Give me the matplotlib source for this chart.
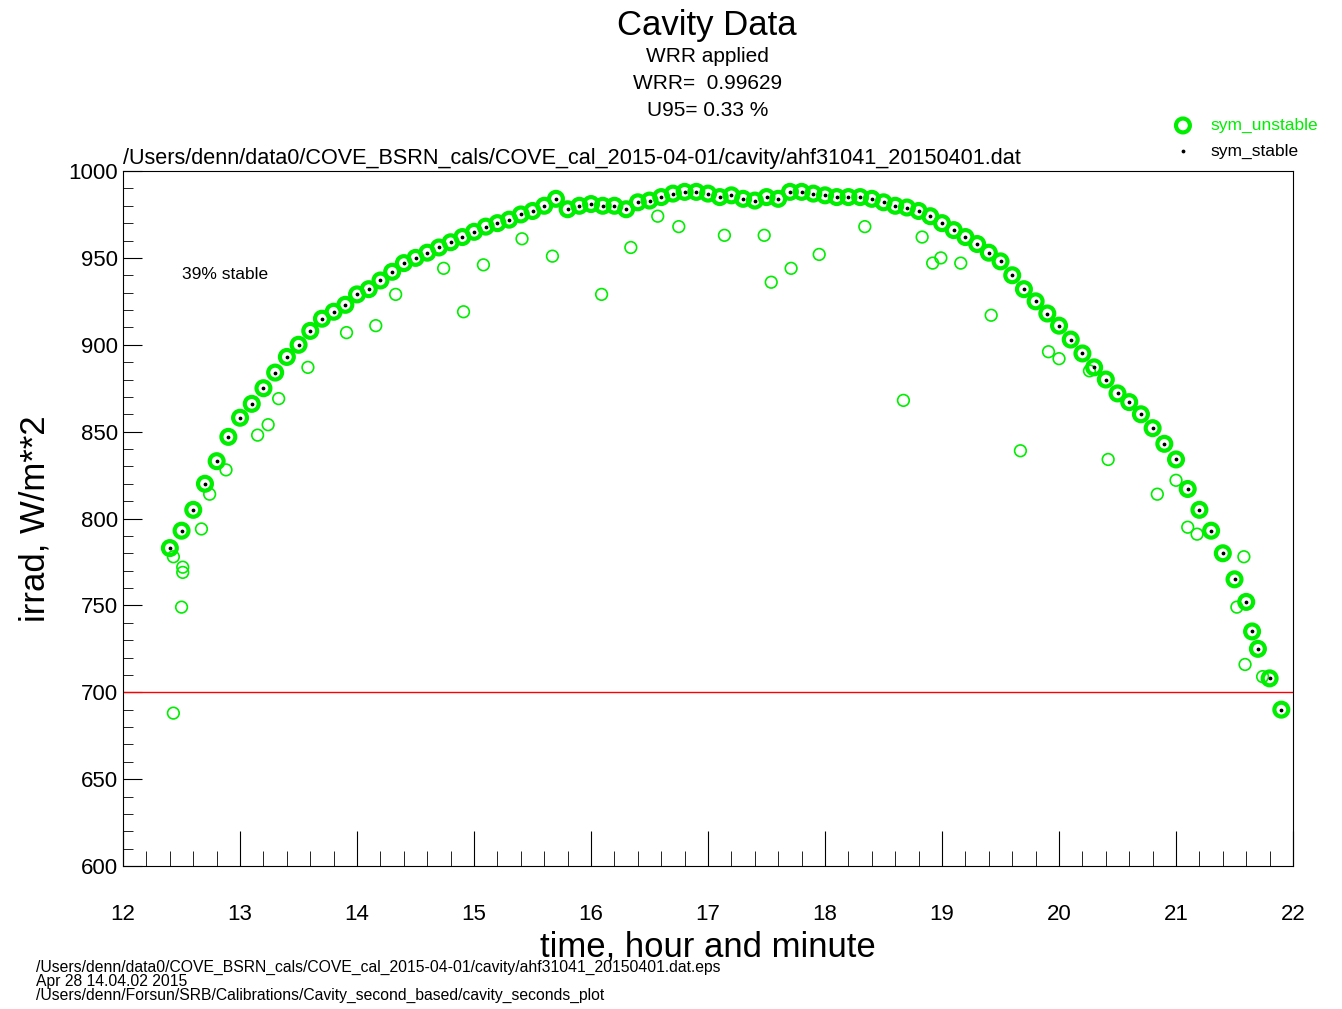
import numpy as np
import matplotlib.pyplot as plt
from matplotlib.ticker import MultipleLocator

plt.rcParams['font.family'] = ['Liberation Sans', 'DejaVu Sans']

# stable curve (hour, irradiance)
hours = [12.4, 12.5, 12.6, 12.7, 12.8, 12.9, 13.0, 13.1, 13.2, 13.3, 13.4, 13.5,
         13.6, 13.7, 13.8, 13.9, 14.0, 14.1, 14.2, 14.3, 14.4, 14.5, 14.6, 14.7,
         14.8, 14.9, 15.0, 15.1, 15.2, 15.3, 15.4, 15.5, 15.6, 15.7, 15.8, 15.9,
         16.0, 16.1, 16.2, 16.3, 16.4, 16.5, 16.6, 16.7, 16.8, 16.9, 17.0, 17.1,
         17.2, 17.3, 17.4, 17.5, 17.6, 17.7, 17.8, 17.9, 18.0, 18.1, 18.2, 18.3,
         18.4, 18.5, 18.6, 18.7, 18.8, 18.9, 19.0, 19.1, 19.2, 19.3, 19.4, 19.5,
         19.6, 19.7, 19.8, 19.9, 20.0, 20.1, 20.2, 20.3, 20.4, 20.5, 20.6, 20.7,
         20.8, 20.9, 21.0, 21.1, 21.2, 21.3, 21.4, 21.5, 21.6, 21.65, 21.7, 21.8, 21.9]
irrad = [783, 793, 805, 820, 833, 847, 858, 866, 875, 884, 893, 900,
         908, 915, 919, 923, 929, 932, 937, 942, 947, 950, 953, 956,
         959, 962, 965, 968, 970, 972, 975, 977, 980, 984, 978, 980,
         981, 980, 980, 978, 982, 983, 985, 987, 988, 988, 987, 985,
         986, 984, 983, 985, 984, 988, 988, 987, 986, 985, 985, 985,
         984, 982, 980, 979, 977, 974, 970, 966, 962, 958, 953, 948,
         940, 932, 925, 918, 911, 903, 895, 887, 880, 872, 867, 860,
         852, 843, 834, 817, 805, 793, 780, 765, 752, 735, 725, 708, 690]

# unstable outliers
out_h = [12.43, 12.5, 12.51, 12.51, 12.43, 12.67, 12.74, 12.88, 13.15, 13.24, 13.33,
         13.58, 13.91, 14.16, 14.33, 14.74, 14.91, 15.08, 15.41, 15.67, 16.09, 16.34,
         16.57, 16.75, 17.14, 17.48, 17.54, 17.71, 17.95, 18.34, 18.67, 18.83, 18.92,
         18.99, 19.16, 19.42, 19.67, 19.91, 20.0, 20.26, 20.42, 20.84, 21.0, 21.1,
         21.18, 21.59, 21.58, 21.74, 21.52]
out_v = [688, 749, 772, 769, 778, 794, 814, 828, 848, 854, 869,
         887, 907, 911, 929, 944, 919, 946, 961, 951, 929, 956,
         974, 968, 963, 963, 936, 944, 952, 968, 868, 962, 947,
         950, 947, 917, 839, 896, 892, 885, 834, 814, 822, 795,
         791, 716, 778, 709, 749]

fig = plt.figure(figsize=(13.42, 10.09), dpi=100)
ax = fig.add_axes([0.0917, 0.1417, 0.8718, 0.6888])

ax.scatter(out_h, out_v, s=70, facecolors='none', edgecolors='#00ee00', lw=1.2)
ax.scatter(hours, irrad, s=100, facecolors='none', edgecolors='#00ee00', lw=3,
           label='sym_unstable')
ax.scatter(hours, irrad, s=3, color='black', label='sym_stable')
ax.axhline(700, color='red', lw=1)

ax.set_xlim(12, 22)
ax.set_ylim(600, 1000)
ax.xaxis.set_major_locator(MultipleLocator(1))
ax.xaxis.set_minor_locator(MultipleLocator(0.2))
ax.yaxis.set_major_locator(MultipleLocator(50))
ax.yaxis.set_minor_locator(MultipleLocator(10))
ax.tick_params(axis='x', which='major', direction='in', length=25, pad=27, labelsize=16)
ax.tick_params(axis='x', which='minor', direction='in', length=11)
ax.tick_params(axis='y', which='major', direction='in', length=14, labelsize=16)
ax.tick_params(axis='y', which='minor', direction='in', length=7)

ax.set_xlabel('time, hour and minute', fontsize=25, labelpad=4)
ax.set_ylabel('irrad, W/m**2', fontsize=25, labelpad=12)

ax.text(0.05, 0.845, '39% stable', transform=ax.transAxes, fontsize=12.5)
ax.text(0.0, 1.01, '/Users/denn/data0/COVE_BSRN_cals/COVE_cal_2015-04-01/cavity/ahf31041_20150401.dat',
        transform=ax.transAxes, fontsize=15.6)

leg = ax.legend(loc='lower right', bbox_to_anchor=(1.035, 0.995), frameon=False,
                fontsize=12.5, handletextpad=0.6, labelspacing=0.6)
leg.get_texts()[0].set_color('#00ee00')

fig.text(0.527, 0.975, 'Cavity Data', ha='center', va='center', fontsize=25)
fig.text(0.527, 0.944, 'WRR applied', ha='center', va='center', fontsize=15)
fig.text(0.527, 0.917, 'WRR=  0.99629', ha='center', va='center', fontsize=15)
fig.text(0.527, 0.890, 'U95= 0.33 %', ha='center', va='center', fontsize=15)

footer = ['/Users/denn/data0/COVE_BSRN_cals/COVE_cal_2015-04-01/cavity/ahf31041_20150401.dat.eps',
          'Apr 28 14.04.02 2015',
          '/Users/denn/Forsun/SRB/Calibrations/Cavity_second_based/cavity_seconds_plot']
for i, line in enumerate(footer):
    fig.text(0.027, 0.041 - i * 0.0139, line, fontsize=11.3, va='center')

fig.savefig('out.png', dpi=100)
